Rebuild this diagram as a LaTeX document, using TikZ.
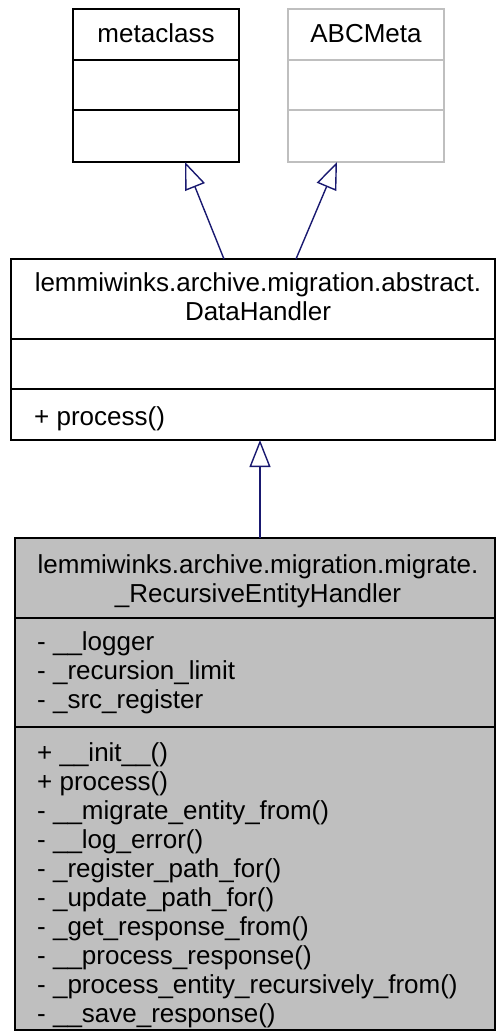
\documentclass[tikz,border=0pt]{standalone}
\usepackage{fontspec}
\setmainfont{Liberation Sans}
\usetikzlibrary{arrows.meta,calc}
\definecolor{navy}{HTML}{191970}
\definecolor{lgray}{HTML}{BFBFBF}
\begin{document}
\begin{tikzpicture}[x=1pt,y=-1pt,
  box/.style={draw, line width=1.4pt, rectangle, inner sep=0pt, outer sep=0pt},
  txt/.style={inner sep=0pt, font=\fontsize{26}{29}\selectfont},
  sep/.style={line width=1.4pt},
  inh/.style={draw=navy, line width=1.4pt, -{Triangle[open, length=27pt, width=21pt]}}]
\useasboundingbox (0,0) rectangle (496,1034);
% metaclass
\node[box, minimum width=166pt, minimum height=153pt] (meta) at (156,85.5) {};
\draw[sep] (73,60) -- (239,60) (73,110) -- (239,110);
\node[txt, anchor=base] (metat) at (156,42) {metaclass};
% ABCMeta
\node[box, draw=lgray, minimum width=156pt, minimum height=153pt] (abc) at (366,85.5) {};
\draw[sep, lgray] (288,60) -- (444,60) (288,110) -- (444,110);
\node[txt, anchor=base] (abct) at (366,42) {ABCMeta};
% DataHandler
\node[box, minimum width=484pt, minimum height=181pt] (dh) at (253,349.5) {};
\draw[sep] (11,339) -- (495,339) (11,389) -- (495,389);
\node[txt, anchor=base] (dht1) at (258,291) {lemmiwinks.archive.migration.abstract.};
\node[txt, anchor=base] (dht2) at (258,320) {DataHandler};
\node[txt, anchor=base west] (dhm1) at (34,425) {+ process()};
% RecursiveEntityHandler
\node[box, fill=lgray, minimum width=480pt, minimum height=492pt] (reh) at (255,784) {};
\draw[sep] (15,618) -- (495,618) (15,727) -- (495,727);
\node[txt, anchor=base] (reht1) at (258,573) {lemmiwinks.archive.migration.migrate.};
\node[txt, anchor=base] (reht2) at (258,602) {\_RecursiveEntityHandler};
\node[txt, anchor=base west] (reha1) at (37,650) {- \_\_logger};
\node[txt, anchor=base west] (reha2) at (37,679) {- \_recursion\_limit};
\node[txt, anchor=base west] (reha3) at (37,708) {- \_src\_register};
\node[txt, anchor=base west] (rehm1) at (37,761) {+ \_\_init\_\_()};
\node[txt, anchor=base west] (rehm2) at (37,790) {+ process()};
\node[txt, anchor=base west] (rehm3) at (37,819) {- \_\_migrate\_entity\_from()};
\node[txt, anchor=base west] (rehm4) at (37,848) {- \_\_log\_error()};
\node[txt, anchor=base west] (rehm5) at (37,877) {- \_register\_path\_for()};
\node[txt, anchor=base west] (rehm6) at (37,906) {- \_update\_path\_for()};
\node[txt, anchor=base west] (rehm7) at (37,935) {- \_get\_response\_from()};
\node[txt, anchor=base west] (rehm8) at (37,964) {- \_\_process\_response()};
\node[txt, anchor=base west] (rehm9) at (37,993) {- \_process\_entity\_recursively\_from()};
\node[txt, anchor=base west] (rehm10) at (37,1022) {- \_\_save\_response()};
% connectors
\draw[inh] ([xshift=-29pt]dh.north) -- ([xshift=29pt]meta.south);
\draw[inh] ([xshift=43pt]dh.north) -- ([xshift=-29pt]abc.south);
\draw[inh] ([xshift=5pt]reh.north) -- ([xshift=7pt]dh.south);
\end{tikzpicture}
\end{document}
